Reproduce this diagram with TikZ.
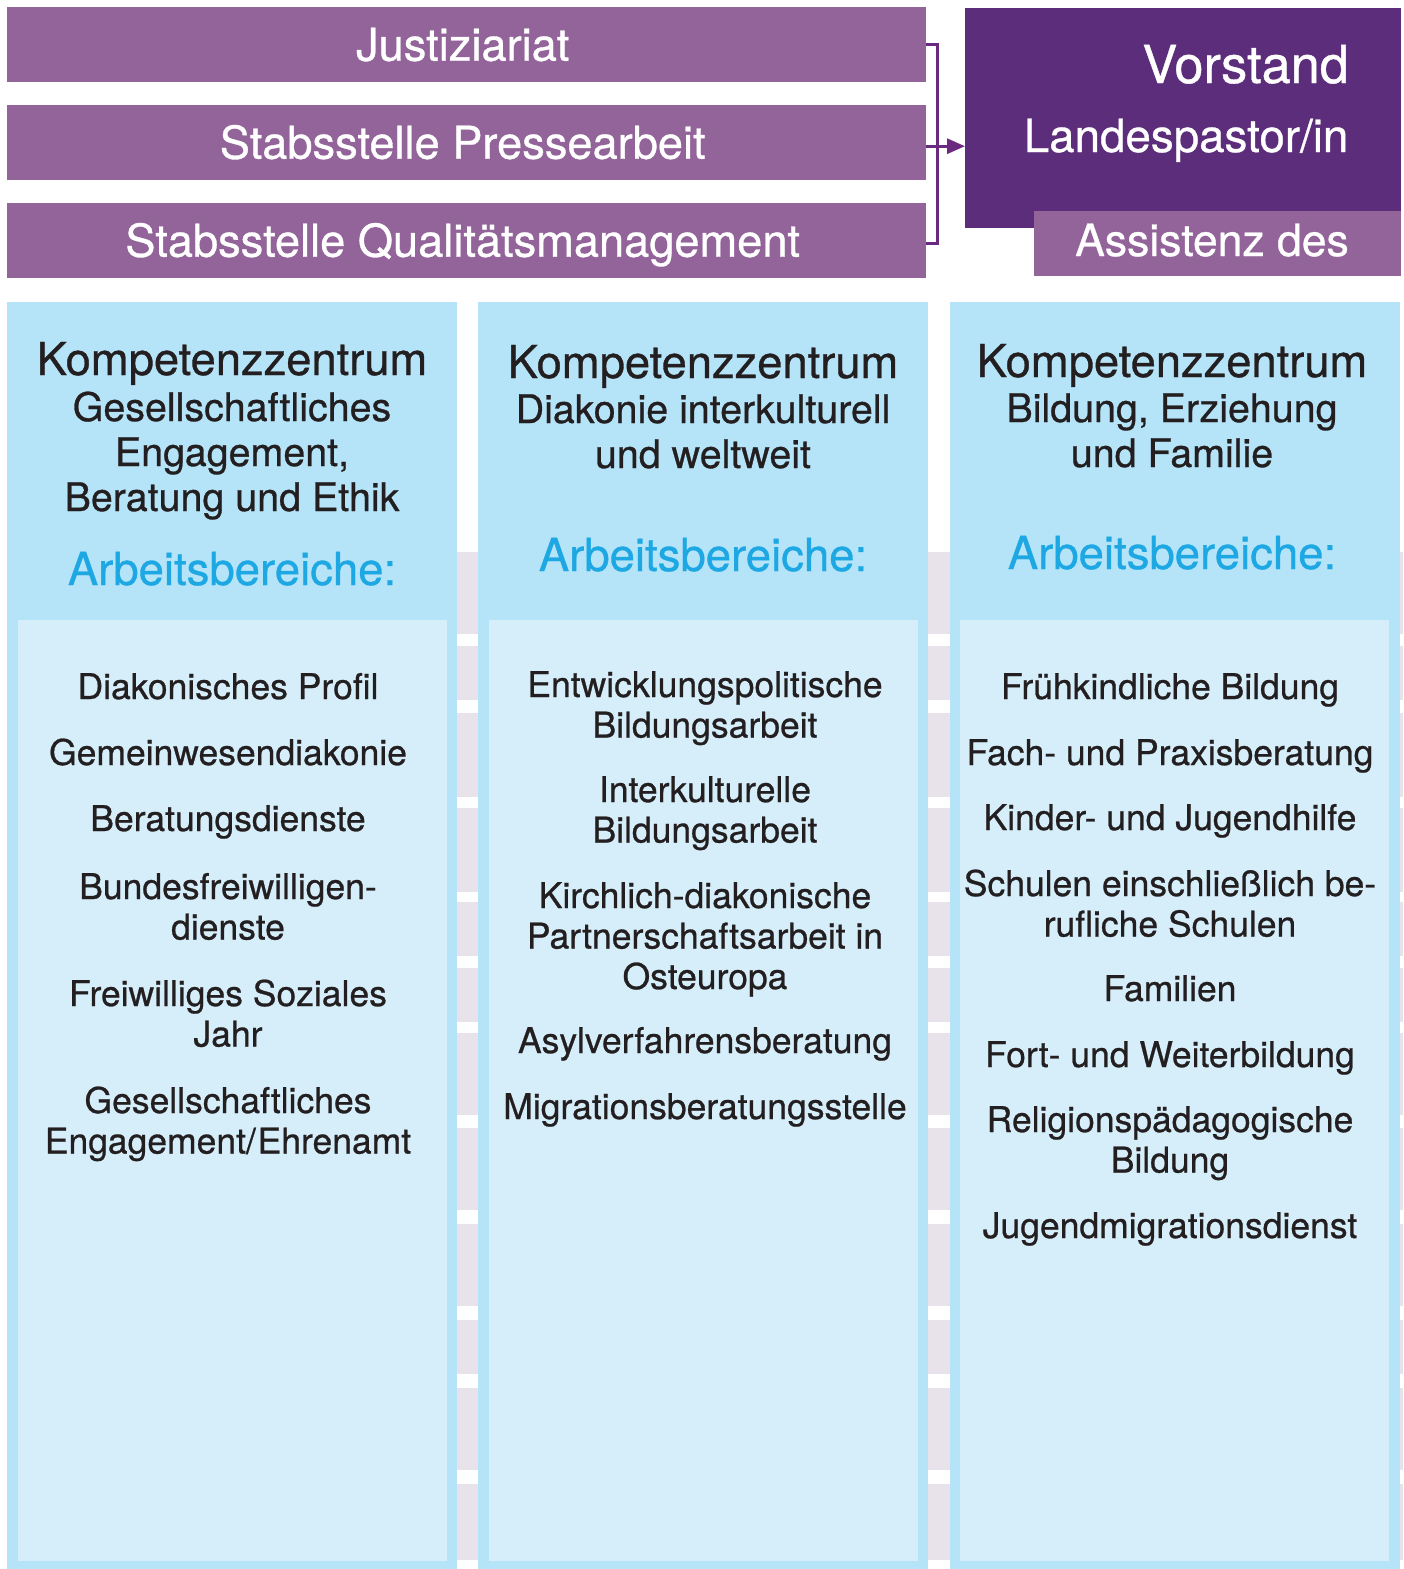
\documentclass[tikz,border=0pt]{standalone}
\usepackage{fontspec}
\setmainfont{TeX Gyre Heros}[FakeBold=0.7]
\usetikzlibrary{arrows.meta}
\definecolor{staff}{RGB}{147,100,154}
\definecolor{board}{RGB}{92,45,122}
\definecolor{conn}{RGB}{107,42,128}
\definecolor{colblue}{RGB}{181,227,247}
\definecolor{innerblue}{RGB}{214,238,250}
\definecolor{stripe}{RGB}{232,226,234}
\definecolor{headblue}{RGB}{29,168,228}
\definecolor{txt}{RGB}{35,31,32}
\begin{document}
\begin{tikzpicture}[x=1pt,y=-1pt,
  staffbox/.style={fill=staff,text=white,inner sep=0pt,anchor=north west,
    minimum width=919pt,minimum height=75pt,text height=32pt,text depth=0pt,
    font=\fontsize{45.2}{50}\selectfont},
  connline/.style={draw=conn,line width=3pt},
  boardtext/.style={text=white,anchor=base east,inner sep=0pt},
  headtext/.style={text=txt,anchor=base,inner sep=0pt,font=\fontsize{45.3}{50}\selectfont},
  subtext/.style={text=txt,anchor=base,inner sep=0pt,align=center,font=\fontsize{39.4}{45}\selectfont},
  areatext/.style={text=headblue,anchor=base,inner sep=0pt,font=\fontsize{45.5}{50}\selectfont},
  itemtext/.style={text=txt,anchor=base,inner sep=0pt,align=center,font=\fontsize{35.5}{40.5}\selectfont}
]
\useasboundingbox (0,0) rectangle (1403,1569);
\fill[white] (0,0) rectangle (1403,1569);

% staff boxes
\node[staffbox] (jus) at (7,7) {Justiziariat\hspace*{8pt}};
\node[staffbox] (press) at (7,105) {Stabsstelle Pressearbeit\hspace*{8pt}};
\node[staffbox] (qm) at (7,203) {Stabsstelle Qualitätsmanagement\hspace*{8pt}};

% board
\node[fill=board,inner sep=0pt,anchor=north west,minimum width=436pt,minimum height=220pt] (vor) at (965,8) {};
\node[fill=staff,inner sep=0pt,anchor=north west,minimum width=367pt,minimum height=65pt] (ass) at (1034,211) {};
\node[boardtext,font=\fontsize{52.3}{56}\selectfont] (vt) at (1349,83) {Vorstand};
\node[boardtext,font=\fontsize{45.7}{50}\selectfont] (lp) at (1348.5,152) {Landespastor/in};
\node[boardtext,font=\fontsize{44.5}{50}\selectfont] (at) at (1349,256) {Assistenz des};

% connectors
\coordinate (bus) at (937,0);
\draw[connline] (jus.east) -- (jus.east -| bus) -- ([yshift=-3pt]qm.east -| bus) -- ([yshift=-3pt]qm.east);
\draw[connline,-{Triangle[length=18pt,width=15pt]}] ([yshift=-3.5pt]press.east) -- ([yshift=-3.5pt]press.east -| vor.west);

% columns
\fill[colblue] (7,302) rectangle (457,1569);
\fill[innerblue] (18,620) rectangle (447,1561);
\fill[colblue] (478,302) rectangle (928,1569);
\fill[innerblue] (489,620) rectangle (918,1561);
\fill[colblue] (950,302) rectangle (1400,1569);
\fill[innerblue] (960,620) rectangle (1389,1561);
\foreach \a/\b in {552/634,646/700,713/797,808/892,902/956,968/1022,1033/1115,1128/1210,1224/1306,1320/1374,1388/1470,1484/1560}{
  \fill[stripe] (457,\a) rectangle (478,\b);
  \fill[stripe] (928,\a) rectangle (950,\b);
  \fill[stripe] (1400,\a) rectangle (1403,\b);
}

% column 1 (multi-line nodes are placed at the baseline of their last line)
\node[headtext] (k1) at (232,375) {Kompetenzzentrum};
\node[subtext] (s1) at (232,511) {Gesellschaftliches\\Engagement,\\Beratung und Ethik};
\node[areatext] (a1) at (232,585) {Arbeitsbereiche:};
\node[itemtext] (i11) at (228,699) {Diakonisches Profil};
\node[itemtext] (i12) at (228,765) {Gemeinwesendiakonie};
\node[itemtext] (i13) at (228,831) {Beratungsdienste};
\node[itemtext] (i14) at (228,939.5) {Bundesfreiwilligen-\\dienste};
\node[itemtext] (i15) at (228,1046.5) {Freiwilliges Soziales\\Jahr};
\node[itemtext] (i16) at (228,1153.5) {Gesellschaftliches\\Engagement/\kern0.05em Ehrenamt};

% column 2
\node[headtext] (k2) at (703,378) {Kompetenzzentrum};
\node[subtext] (s2) at (703,468) {Diakonie interkulturell\\und weltweit};
\node[areatext] (a2) at (703,571) {Arbeitsbereiche:};
\node[itemtext] (i21) at (705,737.5) {Entwicklungspolitische\\Bildungsarbeit};
\node[itemtext] (i22) at (705,842.5) {Interkulturelle\\Bildungsarbeit};
\node[itemtext] (i23) at (705,989) {Kirchlich-diakonische\\Partnerschaftsarbeit in\\Osteuropa};
\node[itemtext] (i24) at (705,1053) {Asylverfahrensberatung};
\node[itemtext] (i25) at (705,1119) {Migrationsberatungsstelle};

% column 3
\node[headtext] (k3) at (1172,377) {Kompetenzzentrum};
\node[subtext] (s3) at (1172,467) {Bildung, Erziehung\\und Familie};
\node[areatext] (a3) at (1172,569) {Arbeitsbereiche:};
\node[itemtext] (i31) at (1170,699) {Frühkindliche Bildung};
\node[itemtext] (i32) at (1170,765) {Fach- und Praxisberatung};
\node[itemtext] (i33) at (1170,830) {Kinder- und Jugendhilfe};
\node[itemtext] (i34) at (1170,936.5) {Schulen einschließlich be-\\rufliche Schulen};
\node[itemtext] (i35) at (1170,1001) {Familien};
\node[itemtext] (i36) at (1170,1067) {Fort- und Weiterbildung};
\node[itemtext] (i37) at (1170,1172.5) {Religionspädagogische\\Bildung};
\node[itemtext] (i38) at (1170,1238) {Jugendmigrationsdienst};
\end{tikzpicture}
\end{document}
